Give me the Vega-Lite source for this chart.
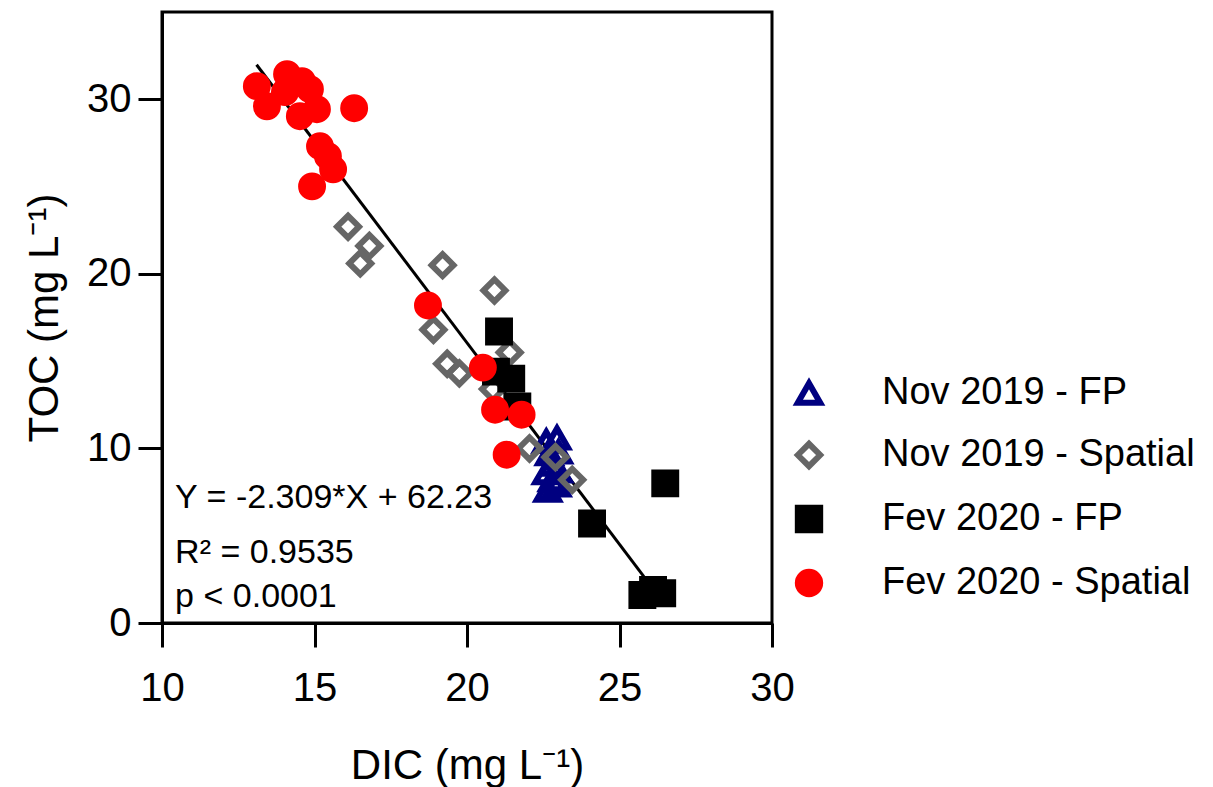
{
  "$schema": "https://vega.github.io/schema/vega-lite/v6.json",
  "autosize": {"type": "none"},
  "padding": {"left": 162, "top": 12, "right": 441, "bottom": 164},
  "width": 610,
  "height": 611,
  "background": "white",
  "config": {
    "font": "Liberation Sans",
    "view": {"stroke": "black", "strokeWidth": 3},
    "axis": {"grid": false, "domainColor": "black", "domainWidth": 3, "tickColor": "black", "tickWidth": 3, "tickSize": 24, "labelFont": "Liberation Sans", "labelFontSize": 40, "labelColor": "black", "labelFlush": false, "labelOverlap": false, "titleFont": "Liberation Sans", "titleFontSize": 42, "titleFontWeight": "normal", "titleColor": "black"},
    "legend": {"labelFont": "Liberation Sans", "labelFontSize": 38, "labelColor": "black", "labelLimit": 0}
  },
  "datasets": {
    "pts": [
      {"DIC": 22.6, "TOC": 10.4, "group": "Nov 2019 - FP"},
      {"DIC": 22.95, "TOC": 10.6, "group": "Nov 2019 - FP"},
      {"DIC": 22.7, "TOC": 9.7, "group": "Nov 2019 - FP"},
      {"DIC": 23.0, "TOC": 9.8, "group": "Nov 2019 - FP"},
      {"DIC": 22.8, "TOC": 9.1, "group": "Nov 2019 - FP"},
      {"DIC": 22.6, "TOC": 8.6, "group": "Nov 2019 - FP"},
      {"DIC": 23.0, "TOC": 8.7, "group": "Nov 2019 - FP"},
      {"DIC": 22.8, "TOC": 8.2, "group": "Nov 2019 - FP"},
      {"DIC": 22.65, "TOC": 7.6, "group": "Nov 2019 - FP"},
      {"DIC": 22.95, "TOC": 7.9, "group": "Nov 2019 - FP"},
      {"DIC": 16.1, "TOC": 22.7, "group": "Nov 2019 - Spatial"},
      {"DIC": 16.8, "TOC": 21.6, "group": "Nov 2019 - Spatial"},
      {"DIC": 16.5, "TOC": 20.6, "group": "Nov 2019 - Spatial"},
      {"DIC": 19.2, "TOC": 20.5, "group": "Nov 2019 - Spatial"},
      {"DIC": 20.9, "TOC": 19.05, "group": "Nov 2019 - Spatial"},
      {"DIC": 18.9, "TOC": 16.8, "group": "Nov 2019 - Spatial"},
      {"DIC": 19.35, "TOC": 14.85, "group": "Nov 2019 - Spatial"},
      {"DIC": 19.75, "TOC": 14.3, "group": "Nov 2019 - Spatial"},
      {"DIC": 21.4, "TOC": 15.5, "group": "Nov 2019 - Spatial"},
      {"DIC": 20.85, "TOC": 13.4, "group": "Nov 2019 - Spatial"},
      {"DIC": 22.05, "TOC": 10.0, "group": "Nov 2019 - Spatial"},
      {"DIC": 23.45, "TOC": 8.2, "group": "Nov 2019 - Spatial"},
      {"DIC": 22.9, "TOC": 9.5, "group": "Nov 2019 - Spatial"},
      {"DIC": 21.05, "TOC": 16.7, "group": "Fev 2020 - FP"},
      {"DIC": 20.95, "TOC": 14.4, "group": "Fev 2020 - FP"},
      {"DIC": 21.45, "TOC": 14.0, "group": "Fev 2020 - FP"},
      {"DIC": 21.65, "TOC": 12.4, "group": "Fev 2020 - FP"},
      {"DIC": 24.1, "TOC": 5.7, "group": "Fev 2020 - FP"},
      {"DIC": 26.5, "TOC": 8.0, "group": "Fev 2020 - FP"},
      {"DIC": 25.75, "TOC": 1.6, "group": "Fev 2020 - FP"},
      {"DIC": 26.1, "TOC": 1.9, "group": "Fev 2020 - FP"},
      {"DIC": 26.4, "TOC": 1.7, "group": "Fev 2020 - FP"},
      {"DIC": 13.11, "TOC": 30.75, "group": "Fev 2020 - Spatial"},
      {"DIC": 14.1, "TOC": 31.44, "group": "Fev 2020 - Spatial"},
      {"DIC": 13.44, "TOC": 29.6, "group": "Fev 2020 - Spatial"},
      {"DIC": 14.59, "TOC": 31.04, "group": "Fev 2020 - Spatial"},
      {"DIC": 14.85, "TOC": 30.58, "group": "Fev 2020 - Spatial"},
      {"DIC": 14.03, "TOC": 30.41, "group": "Fev 2020 - Spatial"},
      {"DIC": 14.52, "TOC": 29.03, "group": "Fev 2020 - Spatial"},
      {"DIC": 15.08, "TOC": 29.43, "group": "Fev 2020 - Spatial"},
      {"DIC": 16.3, "TOC": 29.49, "group": "Fev 2020 - Spatial"},
      {"DIC": 15.18, "TOC": 27.31, "group": "Fev 2020 - Spatial"},
      {"DIC": 15.44, "TOC": 26.74, "group": "Fev 2020 - Spatial"},
      {"DIC": 15.61, "TOC": 25.99, "group": "Fev 2020 - Spatial"},
      {"DIC": 14.92, "TOC": 25.01, "group": "Fev 2020 - Spatial"},
      {"DIC": 18.72, "TOC": 18.19, "group": "Fev 2020 - Spatial"},
      {"DIC": 20.52, "TOC": 14.63, "group": "Fev 2020 - Spatial"},
      {"DIC": 20.92, "TOC": 12.22, "group": "Fev 2020 - Spatial"},
      {"DIC": 21.79, "TOC": 11.93, "group": "Fev 2020 - Spatial"},
      {"DIC": 21.3, "TOC": 9.64, "group": "Fev 2020 - Spatial"}
    ],
    "fit": [
      {"DIC": 13.1, "TOC": 31.98},
      {"DIC": 25.8, "TOC": 2.66}
    ],
    "notes": [
      {"label": "Y = -2.309*X + 62.23", "lx": 10.43, "ly": 6.6},
      {"label": "R² = 0.9535", "lx": 10.43, "ly": 3.44},
      {"label": "p < 0.0001", "lx": 10.43, "ly": 0.94}
    ]
  },
  "layer": [
    {
      "data": {"name": "fit"},
      "mark": {"type": "line", "color": "black", "strokeWidth": 3},
      "encoding": {
        "x": {"field": "DIC", "type": "quantitative", "scale": {"domain": [10, 30], "nice": false}, "axis": {"values": [10, 15, 20, 25, 30], "title": "DIC (mg L⁻¹)", "labelPadding": 21, "titlePadding": 37}},
        "y": {"field": "TOC", "type": "quantitative", "scale": {"domain": [0, 35], "nice": false}, "axis": {"values": [0, 10, 20, 30], "title": "TOC (mg L⁻¹)", "labelPadding": 7, "titlePadding": 20}}
      }
    },
    {
      "data": {"name": "pts"},
      "mark": {"type": "point", "strokeWidth": 6, "size": 480, "opacity": 1},
      "encoding": {
        "x": {"field": "DIC", "type": "quantitative"},
        "y": {"field": "TOC", "type": "quantitative"},
        "shape": {"field": "group", "type": "nominal", "scale": {"domain": ["Nov 2019 - FP", "Nov 2019 - Spatial", "Fev 2020 - FP", "Fev 2020 - Spatial"], "range": ["triangle-up", "diamond", "square", "circle"]}, "legend": {"title": null, "orient": "none", "legendX": 628, "legendY": 362, "symbolSize": 500, "symbolStrokeWidth": 6, "rowPadding": 16, "labelOffset": 54}},
        "fill": {"field": "group", "type": "nominal", "scale": {"domain": ["Nov 2019 - FP", "Nov 2019 - Spatial", "Fev 2020 - FP", "Fev 2020 - Spatial"], "range": ["transparent", "transparent", "black", "red"]}, "legend": {"title": null, "orient": "none", "legendX": 628, "legendY": 362, "symbolSize": 500, "symbolStrokeWidth": 6, "rowPadding": 16, "labelOffset": 54}},
        "stroke": {"field": "group", "type": "nominal", "scale": {"domain": ["Nov 2019 - FP", "Nov 2019 - Spatial", "Fev 2020 - FP", "Fev 2020 - Spatial"], "range": ["#000080", "#666666", "black", "red"]}, "legend": {"title": null, "orient": "none", "legendX": 628, "legendY": 362, "symbolSize": 500, "symbolStrokeWidth": 6, "rowPadding": 16, "labelOffset": 54}}
      }
    },
    {
      "data": {"name": "notes"},
      "mark": {"type": "text", "align": "left", "baseline": "alphabetic", "fontSize": 34, "font": "Liberation Sans", "color": "black"},
      "encoding": {
        "x": {"field": "lx", "type": "quantitative"},
        "y": {"field": "ly", "type": "quantitative"},
        "text": {"field": "label"}
      }
    }
  ]
}
